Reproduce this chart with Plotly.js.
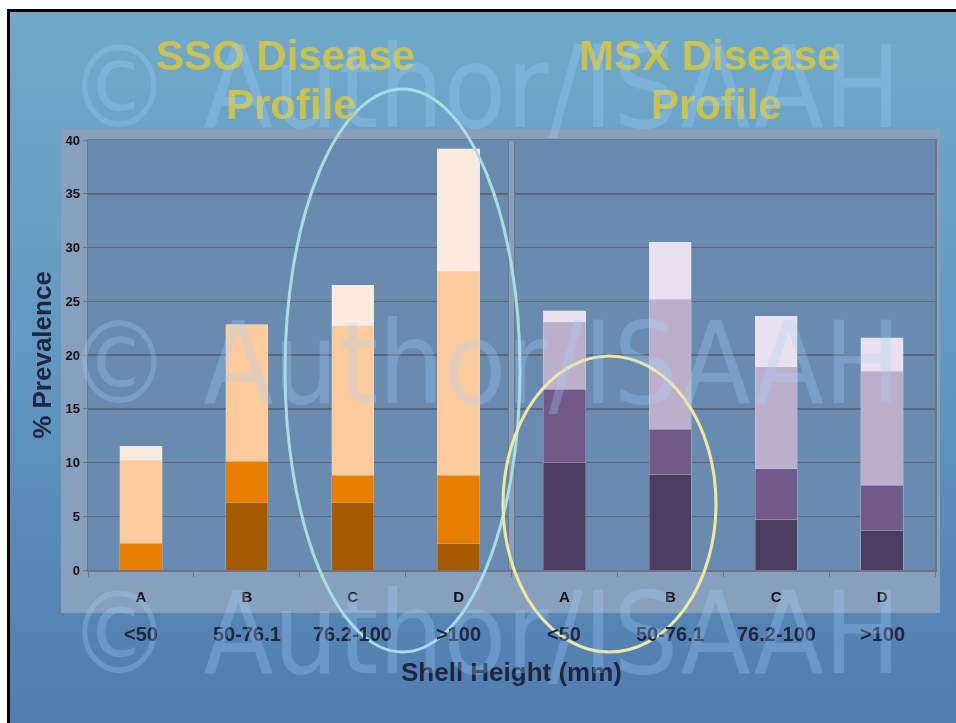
<!DOCTYPE html>
<html>
<head>
<meta charset="utf-8">
<script src="https://cdn.plot.ly/plotly-3.0.1.min.js"></script>
<style>
  html, body { margin: 0; padding: 0; width: 956px; height: 723px; overflow: hidden; background: #ffffff; }
  #slide {
    position: fixed; left: 7px; top: 9px; right: -40px; bottom: -40px;
    border-left: 3px solid #000; border-top: 3px solid #000;
    background: linear-gradient(to bottom, #70AACA 0%, #6398C0 45%, #4F79AE 100%);
  }
  #chart { position: absolute; left: 0; top: 0; width: 956px; height: 723px; }
</style>
</head>
<body>
<div id="slide"></div>
<div id="chart"></div>
<script>
// Shell-height classes, one set per disease
const xCats = ['SSO A', 'SSO B', 'SSO C', 'SSO D', 'MSX A', 'MSX B', 'MSX C', 'MSX D'];
const tickLetters = ['A', 'B', 'C', 'D', 'A', 'B', 'C', 'D'];
const sizeRanges = ['<50', '50-76.1', '76.2-100', '>100', '<50', '50-76.1', '76.2-100', '>100'];

// SSO prevalence (%) by intensity class, stacked bottom to top
const ssoHeavy    = [0.0, 6.3, 6.3, 2.5];
const ssoModerate = [2.5, 3.8, 2.5, 6.3];
const ssoLight    = [7.7, 12.7, 13.9, 19.0];
const ssoRare     = [1.3, 0.0, 3.8, 11.4];

// MSX prevalence (%) by intensity class, stacked bottom to top
const msxHeavy    = [10.0, 8.9, 4.7, 3.7];
const msxModerate = [6.8, 4.2, 4.7, 4.2];
const msxLight    = [6.3, 12.1, 9.5, 10.6];
const msxRare     = [1.0, 5.3, 4.7, 3.1];

const ssoColors = ['#A65A00', '#E87E00', '#FBCB9E', '#FBEADF'];
const msxColors = ['#4C3C62', '#715A89', '#BBAFCC', '#E9E1EF'];

const ssoX = xCats.slice(0, 4);
const msxX = xCats.slice(4);

function barTrace(x, y, color, name) {
  return {
    type: 'bar', x: x, y: y, name: name,
    marker: { color: color, line: { width: 0.6, color: 'rgba(225,225,235,0.45)' } },
    hoverinfo: 'x+y+name'
  };
}

const traces = [
  barTrace(ssoX, ssoHeavy, ssoColors[0], 'SSO heavy'),
  barTrace(ssoX, ssoModerate, ssoColors[1], 'SSO moderate'),
  barTrace(ssoX, ssoLight, ssoColors[2], 'SSO light'),
  barTrace(ssoX, ssoRare, ssoColors[3], 'SSO rare'),
  barTrace(msxX, msxHeavy, msxColors[0], 'MSX heavy'),
  barTrace(msxX, msxModerate, msxColors[1], 'MSX moderate'),
  barTrace(msxX, msxLight, msxColors[2], 'MSX light'),
  barTrace(msxX, msxRare, msxColors[3], 'MSX rare')
];

// Plot-area frame in pixels, used to place slide decorations in paper units
const W = 956, H = 723;
const M = { l: 88, r: 21, t: 140, b: 153 };
const fx = px => (px - M.l) / (W - M.l - M.r);
const fy = py => (H - M.b - py) / (H - M.t - M.b);

const navy = '#1E2540';
const sans = 'Liberation Sans, Arial, sans-serif';
const narrow = 'Liberation Sans Narrow, Arial Narrow, Liberation Sans, sans-serif';
const markFont = 'DejaVu Sans Condensed, DejaVu Sans, sans-serif';
const headFont = { family: sans, size: 42, weight: 'bold', color: '#C9C150' };

const annotations = [];

// Section headings, one annotation per line
[['SSO Disease', 285, 55], ['Profile', 291, 104],
 ['MSX Disease', 709, 55], ['Profile', 716, 104]].forEach(([t, cx, cy]) => {
  annotations.push({
    xref: 'paper', yref: 'paper', x: fx(cx), y: fy(cy), xanchor: 'center', yanchor: 'middle',
    text: t, showarrow: false, font: headFont
  });
});

// Size range under each class letter
sizeRanges.forEach((r, i) => {
  annotations.push({
    xref: 'x', yref: 'paper', x: xCats[i], y: fy(634), xanchor: 'center', yanchor: 'middle',
    text: r, showarrow: false,
    font: { family: sans, size: 20, weight: 'bold', color: navy }
  });
});

// Copyright marks across the slide
[88, 363, 633].forEach(cy => {
  annotations.push({
    xref: 'paper', yref: 'paper', x: fx(66), y: fy(cy), xanchor: 'left', yanchor: 'middle',
    text: '\u00A9 Author/ISAAH', showarrow: false,
    font: { family: markFont, size: 114, color: 'rgba(165,212,255,0.28)' }
  });
});

const shapes = [
  // light panel behind the chart
  { type: 'rect', xref: 'paper', yref: 'paper', layer: 'below',
    x0: fx(61), x1: fx(940), y0: fy(613), y1: fy(129),
    fillcolor: '#87A0BE', line: { width: 0 } },
  // plot area
  { type: 'rect', xref: 'x domain', yref: 'y domain', layer: 'below',
    x0: 0, x1: 1, y0: 0, y1: 1, fillcolor: '#6A8BB0', line: { width: 0 } },
  // divider between the two diseases
  { type: 'rect', xref: 'x', yref: 'y domain', layer: 'above',
    x0: 3.47, x1: 3.53, y0: 0, y1: 1,
    fillcolor: '#87A0BE', line: { width: 1, color: '#6B7282' } },
  // highlight rings
  { type: 'circle', xref: 'paper', yref: 'paper', layer: 'above',
    x0: fx(285), x1: fx(520), y0: fy(652), y1: fy(89),
    line: { color: '#A8DEE2', width: 3 } },
  { type: 'circle', xref: 'paper', yref: 'paper', layer: 'above',
    x0: fx(503), x1: fx(716), y0: fy(652), y1: fy(356),
    line: { color: '#EEE8A4', width: 3 } }
];

const layout = {
  width: W, height: H,
  margin: M,
  paper_bgcolor: 'rgba(0,0,0,0)',
  plot_bgcolor: 'rgba(0,0,0,0)',
  barmode: 'stack',
  bargap: 0.6,
  showlegend: false,
  xaxis: {
    type: 'category', categoryorder: 'array', categoryarray: xCats,
    range: [-0.5, 7.5],
    tickmode: 'array', tickvals: xCats, ticktext: tickLetters,
    tickson: 'boundaries', ticks: 'outside', ticklen: 5, tickcolor: '#6E7585', tickwidth: 1,
    ticklabelstandoff: 12,
    showline: true, linecolor: '#6E7585', linewidth: 1.5, mirror: true,
    showgrid: false, zeroline: false,
    tickfont: { family: narrow, size: 15, weight: 'bold', color: '#111111' },
    title: { text: 'Shell Height (mm)', standoff: 59,
             font: { family: sans, size: 26, weight: 'bold', color: navy } }
  },
  yaxis: {
    range: [0, 40], tickmode: 'linear', tick0: 0, dtick: 5,
    ticks: 'outside', ticklen: 4, tickcolor: '#6E7585',
    showline: true, linecolor: '#6E7585', linewidth: 1.5, mirror: true,
    showgrid: true, gridcolor: '#5F6676', gridwidth: 1.5, zeroline: false,
    tickfont: { family: narrow, size: 13, weight: 'bold', color: '#111111' },
    title: { text: '% Prevalence', standoff: 6,
             font: { family: sans, size: 26, weight: 'bold', color: navy } }
  },
  annotations: annotations,
  shapes: shapes
};

Plotly.newPlot('chart', traces, layout, { displayModeBar: false, staticPlot: true });
</script>
</body>
</html>
